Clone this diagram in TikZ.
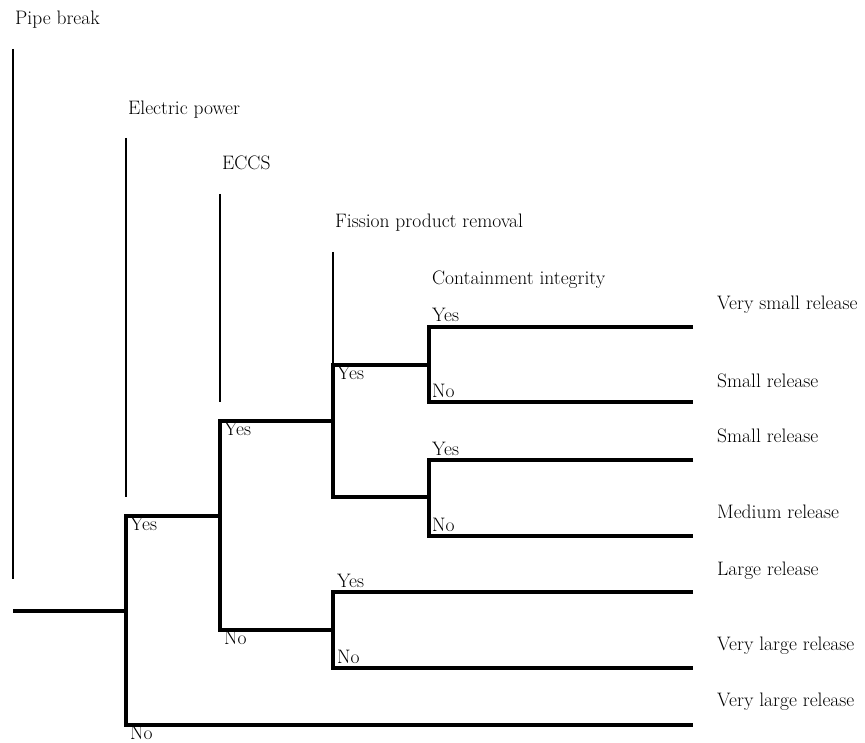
\documentclass[tikz,border=0pt]{standalone}
\usetikzlibrary{positioning}

\begin{document}
\begin{tikzpicture}[x=1pt, y=-1pt]
    \tikzset{branch/.style={line width=4pt}}
    \tikzset{stem/.style={line width=1.6pt}}
    \tikzset{heading/.style={anchor=base west, inner sep=0pt, font=\fontsize{19.5}{22}\selectfont}}
    \tikzset{answer/.style={heading}}
    \tikzset{outcome/.style={heading}}

    % frame
    \useasboundingbox (0,0) rectangle (865,743);

    % headings
    \node[heading] (pipe)     at (15,25)  {Pipe break};
    \node[heading] (power)    at (128,115) {Electric power};
    \node[heading] (eccs)     at (222,170) {ECCS};
    \node[heading] (fission)  at (335,228) {Fission product removal};
    \node[heading] (contain)  at (432,285) {Containment integrity};

    % stems under the headings
    \coordinate (pipe top)     at (13,49);
    \coordinate (pipe end)     at (13,579);
    \coordinate (power top)    at (126,138);
    \coordinate (power end)    at (126,497);
    \coordinate (eccs top)     at (220,194);
    \coordinate (eccs end)     at (220,402);
    \coordinate (fission top)  at (333,252);
    \coordinate (fission end)  at (333,365);
    \draw[stem] (pipe top) -- (pipe end);
    \draw[stem] (power top) -- (power end);
    \draw[stem] (eccs top) -- (eccs end);
    \draw[stem] (fission top) -- (fission end);

    % branch points
    \coordinate (root) at (13,611);
    \coordinate (r1)   at (126,611);
    \coordinate (e1)   at (220,516);
    \coordinate (f1)   at (333,421);
    \coordinate (f2)   at (333,630);
    \coordinate (c1)   at (429,365);
    \coordinate (c2)   at (429,497);

    % corners
    \coordinate (r1 yes) at (126,516);
    \coordinate (r1 no)  at (126,725);
    \coordinate (e1 yes) at (220,421);
    \coordinate (e1 no)  at (220,630);
    \coordinate (f1 yes) at (333,365);
    \coordinate (f1 no)  at (333,497);
    \coordinate (f2 yes) at (333,592);
    \coordinate (f2 no)  at (333,668);
    \coordinate (c1 yes) at (429,327);
    \coordinate (c1 no)  at (429,402);
    \coordinate (c2 yes) at (429,460);
    \coordinate (c2 no)  at (429,536);

    % leaves
    \coordinate (leaf1) at (693,327);
    \coordinate (leaf2) at (693,402);
    \coordinate (leaf3) at (693,460);
    \coordinate (leaf4) at (693,536);
    \coordinate (leaf5) at (693,592);
    \coordinate (leaf6) at (693,668);
    \coordinate (leaf7) at (693,725);

    % tree
    \draw[branch] (root) -- (r1);
    \draw[branch] (e1) -- (r1 yes) -- (r1 no) -- (leaf7);
    \draw[branch] (f1) -- (e1 yes) -- (e1 no) -- (f2);
    \draw[branch] (c1) -- (f1 yes) -- (f1 no) -- (c2);
    \draw[branch] (leaf1) -- (c1 yes) -- (c1 no) -- (leaf2);
    \draw[branch] (leaf3) -- (c2 yes) -- (c2 no) -- (leaf4);
    \draw[branch] (leaf5) -- (f2 yes) -- (f2 no) -- (leaf6);

    % yes / no
    \node[answer] (r1 a) at ([shift={(4,14)}]r1 yes) {Yes};
    \node[answer] (r1 b) at ([shift={(4,14)}]r1 no)  {No};
    \node[answer] (e1 a) at ([shift={(4,14)}]e1 yes) {Yes};
    \node[answer] (e1 b) at ([shift={(4,14)}]e1 no)  {No};
    \node[answer] (f1 a) at ([shift={(4,14)}]f1 yes) {Yes};
    \node[answer] (f2 a) at ([shift={(4,-5)}]f2 yes) {Yes};
    \node[answer] (f2 b) at ([shift={(4,-5)}]f2 no)  {No};
    \node[answer] (c1 a) at ([shift={(3,-5)}]c1 yes) {Yes};
    \node[answer] (c1 b) at ([shift={(3,-5)}]c1 no)  {No};
    \node[answer] (c2 a) at ([shift={(3,-5)}]c2 yes) {Yes};
    \node[answer] (c2 b) at ([shift={(3,-5)}]c2 no)  {No};

    % outcomes
    \node[outcome] (out1) at ([shift={(24,-17)}]leaf1) {Very small release};
    \node[outcome] (out2) at ([shift={(24,-15)}]leaf2) {Small release};
    \node[outcome] (out3) at ([shift={(24,-18)}]leaf3) {Small release};
    \node[outcome] (out4) at ([shift={(24,-18)}]leaf4) {Medium release};
    \node[outcome] (out5) at ([shift={(24,-17)}]leaf5) {Large release};
    \node[outcome] (out6) at ([shift={(24,-18)}]leaf6) {Very large release};
    \node[outcome] (out7) at ([shift={(24,-19)}]leaf7) {Very large release};

\end{tikzpicture}
\end{document}
